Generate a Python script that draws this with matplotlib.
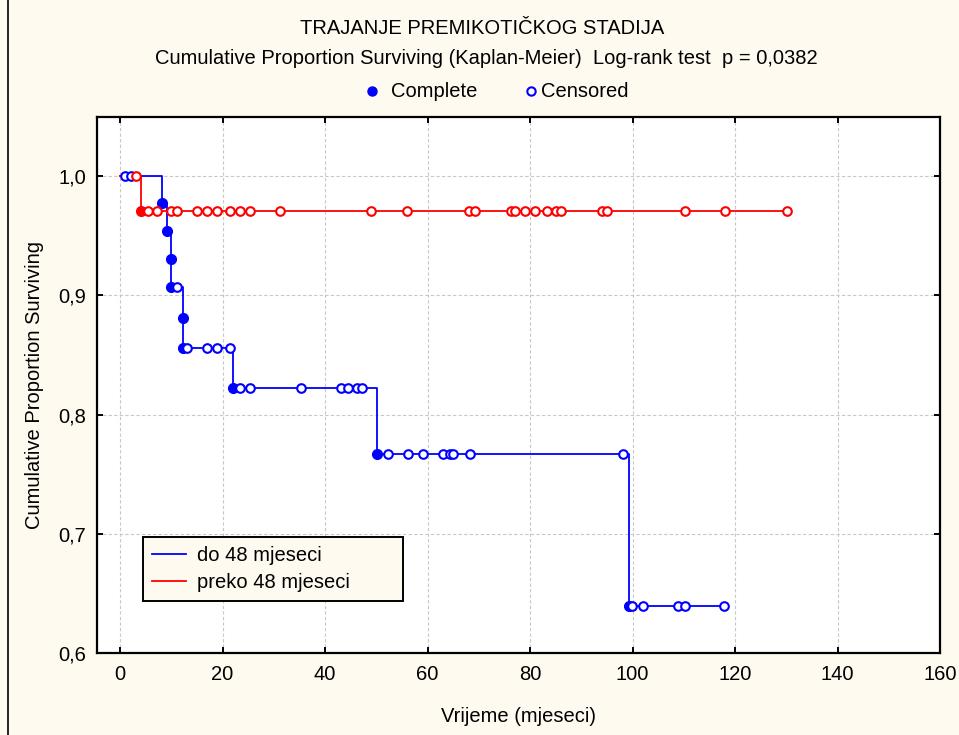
import matplotlib
matplotlib.use("Agg")
import matplotlib.pyplot as plt
from matplotlib.lines import Line2D
import numpy as np

# ---- data ----
# group "do 48 mjeseci" (blue)
blue_event_times = [8.2, 9.1, 10.0, 10.0, 12.2, 12.2, 22.1, 50.2, 99.3]
blue_event_surv = [0.977, 0.954, 0.930, 0.907, 0.881, 0.856, 0.8225, 0.767, 0.639]
blue_cens_times = [1.0, 2.1, 11.2, 13.1, 17.0, 19.0, 21.5, 23.4, 25.4, 35.4, 43.1,
                   44.4, 46.2, 47.2, 52.2, 56.1, 59.2, 63.1, 64.3, 65.0, 68.2, 98.1,
                   99.9, 102.0, 108.9, 110.2, 117.9]
blue_end = 117.9

# group "preko 48 mjeseci" (red)
red_event_times = [4.1]
red_event_surv = [0.971]
red_cens_times = [3.1, 5.4, 7.3, 9.95, 11.2, 15.1, 17.0, 19.0, 21.5, 23.4, 25.4, 31.2,
                  49.0, 56.0, 68.0, 69.3, 76.2, 77.1, 79.0, 81.0, 83.3, 85.1, 86.0,
                  94.0, 95.0, 110.2, 118.0, 130.1]
red_end = 130.1

group_labels = ["do 48 mjeseci", "preko 48 mjeseci"]
group_colors = ["#0000ff", "#ff0000"]

title = "TRAJANJE PREMIKOTIČKOG STADIJA"
subtitle = "Cumulative Proportion Surviving (Kaplan-Meier)  Log-rank test  p = 0,0382"
xlabel = "Vrijeme (mjeseci)"
ylabel = "Cumulative Proportion Surviving"
xticks = [0, 20, 40, 60, 80, 100, 120, 140, 160]
yticks = [0.6, 0.7, 0.8, 0.9, 1.0]
ytick_labels = ["0,6", "0,7", "0,8", "0,9", "1,0"]

BG = "#fffaf0"
FONT = "Liberation Sans"
FS = 14.5

fig = plt.figure(figsize=(9.59, 7.35), dpi=100, facecolor=BG)
ax = fig.add_axes([97/959, 1-653/735, (940-97)/959, (653-117)/735])
ax.set_facecolor("white")


def surv_at(t, ev_t, ev_s):
    s = 1.0
    for et, es in zip(ev_t, ev_s):
        if et <= t:
            s = es
    return s


def draw_group(ev_t, ev_s, c_t, end, color):
    xs = [0.0]
    ys = [1.0]
    for t in sorted(set(ev_t)):
        xs.append(t)
        ys.append(surv_at(t, ev_t, ev_s))
    xs.append(end)
    ys.append(ys[-1])
    ax.step(xs, ys, where="post", color=color, lw=1.3, zorder=3)
    ax.plot(ev_t, ev_s, "o", color=color, ms=7.0, zorder=4, mec=color)
    cs = [surv_at(t, ev_t, ev_s) for t in c_t]
    ax.plot(c_t, cs, "o", mfc="white", mec=color, mew=1.5, ms=6.2, zorder=5)


draw_group(blue_event_times, blue_event_surv, blue_cens_times, blue_end, group_colors[0])
draw_group(red_event_times, red_event_surv, red_cens_times, red_end, group_colors[1])

ax.set_xlim(-4.5, 160)
ax.set_ylim(0.6, 1.0495)
ax.set_xticks(xticks)
ax.set_yticks(yticks)
ax.set_yticklabels(ytick_labels)
ax.grid(True, color="#c8c8c8", linestyle=(0, (3, 2)), lw=0.8)
ax.set_axisbelow(True)
for sp in ax.spines.values():
    sp.set_linewidth(1.6)
    sp.set_color("black")
ax.tick_params(direction="in", length=4, width=1.4, top=True, right=True,
               labelsize=FS)
ax.tick_params(axis="x", pad=9)
ax.tick_params(axis="y", pad=8)
for lab in ax.get_xticklabels() + ax.get_yticklabels():
    lab.set_fontfamily(FONT)

ax.set_xlabel(xlabel, fontsize=FS, family=FONT, labelpad=16)
ax.set_ylabel(ylabel, fontsize=FS, family=FONT, labelpad=10)

fig.text(482/959, 1-28/735, title, ha="center", va="center", fontsize=FS, family=FONT)
fig.text(486/959, 1-58/735, subtitle, ha="center", va="center", fontsize=FS, family=FONT)

# top marker legend
ybase = 1-97/735
fig.lines.append(Line2D([372/959], [1-91/735], marker="o", color="#0000ff", ms=6.5,
                        transform=fig.transFigure, ls="none"))
fig.text(391/959, ybase, "Complete", ha="left", va="baseline", fontsize=FS, family=FONT)
fig.lines.append(Line2D([531/959], [1-91/735], marker="o", mfc="white", mec="#0000ff",
                        mew=1.5, ms=6, transform=fig.transFigure, ls="none"))
fig.text(541/959, ybase, "Censored", ha="left", va="baseline", fontsize=FS, family=FONT)

# group legend
handles = [Line2D([], [], color=c, lw=1.3) for c in group_colors]
leg = ax.legend(handles, group_labels, loc="lower left", mode="expand",
                bbox_to_anchor=((143-97)/843, (653-601)/536, (403-143)/843, 0.1),
                fancybox=False, framealpha=1, edgecolor="black", facecolor=BG,
                borderpad=0.45, handlelength=1.7, handletextpad=0.55,
                labelspacing=0.4, borderaxespad=0,
                prop={"family": FONT, "size": FS})
leg.get_frame().set_linewidth(1.4)

# figure left frame line
fig.lines.append(Line2D([7.5/959, 7.5/959], [0, 1], color="black", lw=1.2,
                        transform=fig.transFigure))

fig.savefig("out.png", dpi=100, facecolor=BG)
